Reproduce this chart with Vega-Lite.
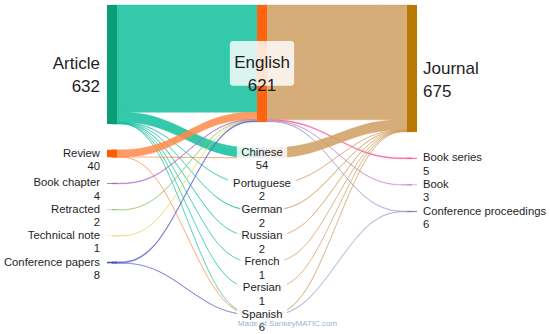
{
  "$schema": "https://vega.github.io/schema/vega-lite/v6.json",
  "width": 550,
  "height": 334,
  "autosize": {"type": "fit", "contains": "padding"},
  "padding": 0,
  "background": "white",
  "config": {"view": {"stroke": null}, "font": "Liberation Sans"},
  "datasets": {
    "nodes": [
      {"name": "Article", "col": 0, "rank": 0, "value": 632},
      {"name": "Review", "col": 0, "rank": 1, "value": 40},
      {"name": "Book chapter", "col": 0, "rank": 2, "value": 4},
      {"name": "Retracted", "col": 0, "rank": 3, "value": 2},
      {"name": "Technical note", "col": 0, "rank": 4, "value": 1},
      {"name": "Conference papers", "col": 0, "rank": 5, "value": 8},
      {"name": "English", "col": 1, "rank": 0, "value": 621},
      {"name": "Chinese", "col": 1, "rank": 1, "value": 54},
      {"name": "Portuguese", "col": 1, "rank": 2, "value": 2},
      {"name": "German", "col": 1, "rank": 3, "value": 2},
      {"name": "Russian", "col": 1, "rank": 4, "value": 2},
      {"name": "French", "col": 1, "rank": 5, "value": 1},
      {"name": "Persian", "col": 1, "rank": 6, "value": 1},
      {"name": "Spanish", "col": 1, "rank": 7, "value": 6},
      {"name": "Journal", "col": 2, "rank": 0, "value": 675},
      {"name": "Book series", "col": 2, "rank": 1, "value": 5},
      {"name": "Book", "col": 2, "rank": 2, "value": 3},
      {"name": "Conference proceedings", "col": 2, "rank": 3, "value": 6}
    ],
    "links": [
      {"source": "Article", "target": "English", "value": 570},
      {"source": "Article", "target": "Chinese", "value": 53},
      {"source": "Article", "target": "Portuguese", "value": 2},
      {"source": "Article", "target": "German", "value": 2},
      {"source": "Article", "target": "Russian", "value": 2},
      {"source": "Article", "target": "French", "value": 1},
      {"source": "Article", "target": "Persian", "value": 1},
      {"source": "Article", "target": "Spanish", "value": 1},
      {"source": "Review", "target": "English", "value": 38},
      {"source": "Review", "target": "Chinese", "value": 1},
      {"source": "Review", "target": "Spanish", "value": 1},
      {"source": "Book chapter", "target": "English", "value": 4},
      {"source": "Retracted", "target": "English", "value": 2},
      {"source": "Technical note", "target": "English", "value": 1},
      {"source": "Conference papers", "target": "English", "value": 6},
      {"source": "Conference papers", "target": "Spanish", "value": 2},
      {"source": "English", "target": "Journal", "value": 610},
      {"source": "English", "target": "Book series", "value": 5},
      {"source": "English", "target": "Book", "value": 3},
      {"source": "English", "target": "Conference proceedings", "value": 3},
      {"source": "Chinese", "target": "Journal", "value": 54},
      {"source": "Portuguese", "target": "Journal", "value": 2},
      {"source": "German", "target": "Journal", "value": 2},
      {"source": "Russian", "target": "Journal", "value": 2},
      {"source": "French", "target": "Journal", "value": 1},
      {"source": "Persian", "target": "Journal", "value": 1},
      {"source": "Spanish", "target": "Journal", "value": 3},
      {"source": "Spanish", "target": "Conference proceedings", "value": 3}
    ],
    "credit": [{"note": "Made at SankeyMATIC.com", "col": 1.17, "pos": 1695}]
  },
  "resolve": {"scale": {"color": "independent", "fill": "independent", "stroke": "independent"}},
  "layer": [
    {
      "data": {"name": "links"},
      "transform": [
        {"lookup": "source", "from": {"data": {"name": "nodes"}, "key": "name", "fields": ["col", "rank"]}, "as": ["sc", "sr"]},
        {"lookup": "target", "from": {"data": {"name": "nodes"}, "key": "name", "fields": ["rank"]}, "as": ["tr"]},
        {"window": [{"op": "sum", "field": "value", "as": "cs"}], "groupby": ["sc"], "sort": [{"field": "sr", "order": "ascending"}, {"field": "tr", "order": "ascending"}], "frame": [null, 0]},
        {"window": [{"op": "sum", "field": "value", "as": "ct"}], "groupby": ["sc"], "sort": [{"field": "tr", "order": "ascending"}, {"field": "sr", "order": "ascending"}], "frame": [null, 0]},
        {"calculate": "datum.sc === 0 ? datum.source : datum.target", "as": "grp"},
        {"calculate": "datum.source + '>' + datum.target", "as": "id"},
        {"calculate": "datum.sc", "as": "p0"},
        {"calculate": "datum.sc + 0.3", "as": "p1"},
        {"calculate": "datum.sc + 0.7", "as": "p2"},
        {"calculate": "datum.sc + 1", "as": "p3"},
        {"fold": ["p0", "p1", "p2", "p3"], "as": ["pt", "px"]},
        {"calculate": "(datum.pt === 'p0' || datum.pt === 'p1') ? datum.cs - datum.value + datum.sr * 137 : datum.ct - datum.value + datum.tr * 137", "as": "top"},
        {"calculate": "datum.top + datum.value", "as": "bot"}
      ],
      "mark": {"type": "area", "interpolate": "basis", "fillOpacity": 0.85, "strokeWidth": 0.55, "strokeOpacity": 0.7},
      "encoding": {
        "x": {"field": "px", "type": "quantitative", "scale": {"domain": [-0.7467, 2.92], "nice": false, "zero": false}, "axis": null},
        "y": {"field": "top", "type": "quantitative", "stack": null, "scale": {"domain": [-26.3, 1731.6], "reverse": true, "nice": false, "zero": false}, "axis": null},
        "y2": {"field": "bot"},
        "detail": {"field": "id", "type": "nominal"},
        "color": {
          "field": "grp", "type": "nominal", "legend": null,
          "scale": {
            "domain": ["Article", "Review", "Book chapter", "Retracted", "Technical note", "Conference papers", "Journal", "Book series", "Book", "Conference proceedings"],
            "range": ["#12c09e", "#ff8a48", "#b070c8", "#8cc060", "#e6d45a", "#6464c8", "#cf9f60", "#ff5898", "#c090c8", "#a0a0d0"]
          }
        },
        "stroke": {
          "field": "grp", "type": "nominal", "legend": null,
          "scale": {
            "domain": ["Article", "Review", "Book chapter", "Retracted", "Technical note", "Conference papers", "Journal", "Book series", "Book", "Conference proceedings"],
            "range": ["#12c09e", "#ff8a48", "#b070c8", "#8cc060", "#e6d45a", "#6464c8", "#cf9f60", "#ff5898", "#c090c8", "#a0a0d0"]
          }
        }
      }
    },
    {
      "data": {"name": "nodes"},
      "transform": [
        {"window": [{"op": "sum", "field": "value", "as": "cum"}], "groupby": ["col"], "sort": [{"field": "rank", "order": "ascending"}], "frame": [null, 0]},
        {"calculate": "datum.cum - datum.value + datum.rank * 137", "as": "y0"},
        {"calculate": "datum.cum + datum.rank * 137", "as": "y1"}
      ],
      "mark": {"type": "rect", "width": 10},
      "encoding": {
        "x": {"field": "col", "type": "quantitative", "scale": {"domain": [-0.7467, 2.92], "nice": false, "zero": false}, "axis": null},
        "y": {"field": "y0", "type": "quantitative", "scale": {"domain": [-26.3, 1731.6], "reverse": true, "nice": false, "zero": false}, "axis": null},
        "y2": {"field": "y1"},
        "fill": {
          "field": "name", "type": "nominal", "legend": null,
          "scale": {
            "domain": ["Article", "Review", "Book chapter", "Retracted", "Technical note", "Conference papers", "English", "Chinese", "Portuguese", "German", "Russian", "French", "Persian", "Spanish", "Journal", "Book series", "Book", "Conference proceedings"],
            "range": ["#0a9e78", "#ff5a00", "#9a5ab0", "#70a850", "#d8c440", "#4a4ab0", "#ff6410", "#8a8ad0", "#b0a0c0", "#a0a0c8", "#a0a0c8", "#a0a0c8", "#a0a0c8", "#9090c8", "#b77900", "#ff4f8f", "#b080b8", "#8080b8"]
          }
        }
      }
    },
    {
      "data": {"name": "nodes"},
      "transform": [
        {"window": [{"op": "sum", "field": "value", "as": "cum"}], "groupby": ["col"], "sort": [{"field": "rank", "order": "ascending"}], "frame": [null, 0]},
        {"filter": "datum.col === 1"},
        {"calculate": "((datum.value > 100 ? 7.9 : 5.9) * length(datum.name) + 9) / 300", "as": "hw"},
        {"calculate": "(datum.value > 100 ? 45 : 29) / 0.38", "as": "hh"},
        {"calculate": "datum.cum - datum.value / 2 + datum.rank * 137", "as": "yc"},
        {"calculate": "datum.col - datum.hw", "as": "bx0"},
        {"calculate": "datum.col + datum.hw", "as": "bx1"},
        {"calculate": "datum.yc - datum.hh", "as": "by0"},
        {"calculate": "datum.yc + datum.hh", "as": "by1"}
      ],
      "mark": {"type": "rect", "cornerRadius": 3, "fill": "white", "opacity": 0.82},
      "encoding": {
        "x": {"field": "bx0", "type": "quantitative", "scale": {"domain": [-0.7467, 2.92], "nice": false, "zero": false}, "axis": null},
        "x2": {"field": "bx1"},
        "y": {"field": "by0", "type": "quantitative", "scale": {"domain": [-26.3, 1731.6], "reverse": true, "nice": false, "zero": false}, "axis": null},
        "y2": {"field": "by1"}
      }
    },
    {
      "data": {"name": "nodes"},
      "transform": [
        {"window": [{"op": "sum", "field": "value", "as": "cum"}], "groupby": ["col"], "sort": [{"field": "rank", "order": "ascending"}], "frame": [null, 0]},
        {"calculate": "datum.cum - datum.value / 2 + datum.rank * 137", "as": "yc"},
        {"calculate": "datum.name + '\\n' + datum.value", "as": "label"},
        {"filter": "datum.col === 0"}
      ],
      "mark": {"type": "text", "align": "right", "baseline": "middle", "dx": -12, "lineBreak": "\n", "lineHeight": {"expr": "datum.value > 100 ? 23 : 13.5"}, "color": "#1e1e1e"},
      "encoding": {
        "x": {"field": "col", "type": "quantitative", "scale": {"domain": [-0.7467, 2.92], "nice": false, "zero": false}, "axis": null},
        "y": {"field": "yc", "type": "quantitative", "scale": {"domain": [-26.3, 1731.6], "reverse": true, "nice": false, "zero": false}, "axis": null},
        "text": {"field": "label"},
        "size": {"condition": {"test": "datum.value > 100", "value": 17}, "value": 11.3}
      }
    },
    {
      "data": {"name": "nodes"},
      "transform": [
        {"window": [{"op": "sum", "field": "value", "as": "cum"}], "groupby": ["col"], "sort": [{"field": "rank", "order": "ascending"}], "frame": [null, 0]},
        {"calculate": "datum.cum - datum.value / 2 + datum.rank * 137", "as": "yc"},
        {"calculate": "datum.name + '\\n' + datum.value", "as": "label"},
        {"filter": "datum.col === 1"}
      ],
      "mark": {"type": "text", "align": "center", "baseline": "middle", "lineBreak": "\n", "lineHeight": {"expr": "datum.value > 100 ? 23 : 13.5"}, "color": "#1e1e1e"},
      "encoding": {
        "x": {"field": "col", "type": "quantitative", "scale": {"domain": [-0.7467, 2.92], "nice": false, "zero": false}, "axis": null},
        "y": {"field": "yc", "type": "quantitative", "scale": {"domain": [-26.3, 1731.6], "reverse": true, "nice": false, "zero": false}, "axis": null},
        "text": {"field": "label"},
        "size": {"condition": {"test": "datum.value > 100", "value": 17}, "value": 11.3}
      }
    },
    {
      "data": {"name": "nodes"},
      "transform": [
        {"window": [{"op": "sum", "field": "value", "as": "cum"}], "groupby": ["col"], "sort": [{"field": "rank", "order": "ascending"}], "frame": [null, 0]},
        {"calculate": "datum.cum - datum.value / 2 + datum.rank * 137", "as": "yc"},
        {"calculate": "datum.name + '\\n' + datum.value", "as": "label"},
        {"filter": "datum.col === 2"}
      ],
      "mark": {"type": "text", "align": "left", "baseline": "middle", "dx": 11, "lineBreak": "\n", "lineHeight": {"expr": "datum.value > 100 ? 23 : 13.5"}, "color": "#1e1e1e"},
      "encoding": {
        "x": {"field": "col", "type": "quantitative", "scale": {"domain": [-0.7467, 2.92], "nice": false, "zero": false}, "axis": null},
        "y": {"field": "yc", "type": "quantitative", "scale": {"domain": [-26.3, 1731.6], "reverse": true, "nice": false, "zero": false}, "axis": null},
        "text": {"field": "label"},
        "size": {"condition": {"test": "datum.value > 100", "value": 17}, "value": 11.3}
      }
    },
    {
      "data": {"name": "credit"},
      "mark": {"type": "text", "align": "center", "baseline": "middle", "fontSize": 8, "color": "#9fb3d6"},
      "encoding": {
        "x": {"field": "col", "type": "quantitative", "scale": {"domain": [-0.7467, 2.92], "nice": false, "zero": false}, "axis": null},
        "y": {"field": "pos", "type": "quantitative", "scale": {"domain": [-26.3, 1731.6], "reverse": true, "nice": false, "zero": false}, "axis": null},
        "text": {"field": "note"}
      }
    }
  ]
}
